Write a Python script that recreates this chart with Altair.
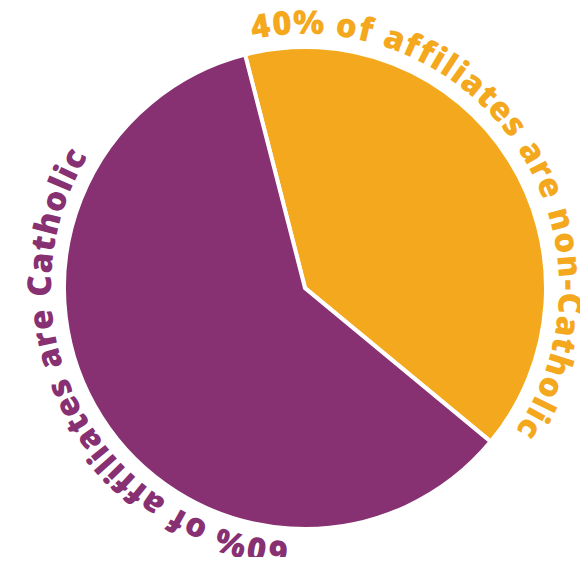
import math
import altair as alt
import pandas as pd

# ---- data ----
categories = ["non-Catholic", "Catholic"]
shares = [40, 60]
labels = ["40% of affiliates are non-Catholic", "60% of affiliates are Catholic"]
colors = ["#F4A81D", "#873072"]

# ---- layout ----
W, H = 572, 549
CX, CY = 297, 280
R = 241
TEXT_R = 254
FONT = 33
TRACK = 1.9
START_DEG = -14.4
label_start_deg = [-12.0, 183.5]

# approximate glyph advance widths (em) for the heavy sans face
adv = {" ": 0.26, "%": 0.86, "-": 0.32, "C": 0.65, "a": 0.59, "c": 0.51,
       "e": 0.58, "f": 0.40, "h": 0.65, "i": 0.30, "l": 0.30, "n": 0.65,
       "o": 0.62, "r": 0.45, "s": 0.50, "t": 0.42}
for d in "0123456789":
    adv[d] = 0.57

pie_df = pd.DataFrame({"category": categories, "share": shares, "idx": list(range(len(shares)))})

rows = []
for cat, lab, sdeg in zip(categories, labels, label_start_deg):
    pos = 0.0
    base = math.radians(sdeg)
    for ch in lab:
        w = adv.get(ch, 0.5) * FONT + TRACK
        c = pos + w / 2
        pos += w
        if ch == " ":
            continue
        th = base + c / TEXT_R
        rows.append({"category": cat, "ch": ch, "theta": th,
                     "angle": math.degrees(th) % 360})
txt_df = pd.DataFrame(rows)

s = math.radians(START_DEG)
color_scale = alt.Scale(domain=categories, range=colors)

pie = alt.Chart(pie_df).mark_arc(outerRadius=R, stroke="white", strokeWidth=4).encode(
    theta=alt.Theta("share:Q", stack=True, scale=alt.Scale(range=[s, s + 2 * math.pi])),
    color=alt.Color("category:N", scale=color_scale, legend=None),
    order=alt.Order("idx:Q"),
    x=alt.value(CX),
    y=alt.value(CY),
)

text = alt.Chart(txt_df).mark_text(
    font="Open Sans", fontSize=FONT, fontWeight=800, align="center", baseline="alphabetic"
).encode(
    text="ch:N",
    theta=alt.Theta("theta:Q", scale=None),
    radius=alt.value(TEXT_R),
    angle=alt.Angle("angle:Q", scale=None),
    color=alt.Color("category:N", scale=color_scale, legend=None),
    x=alt.value(CX),
    y=alt.value(CY),
)

chart = alt.layer(pie, text).resolve_scale(theta="independent").properties(
    width=W, height=H, padding=0, autosize=alt.AutoSizeParams(type="none")
).configure_view(stroke=None)

chart.save("out.html", embed_options={"renderer": "svg", "actions": False})
